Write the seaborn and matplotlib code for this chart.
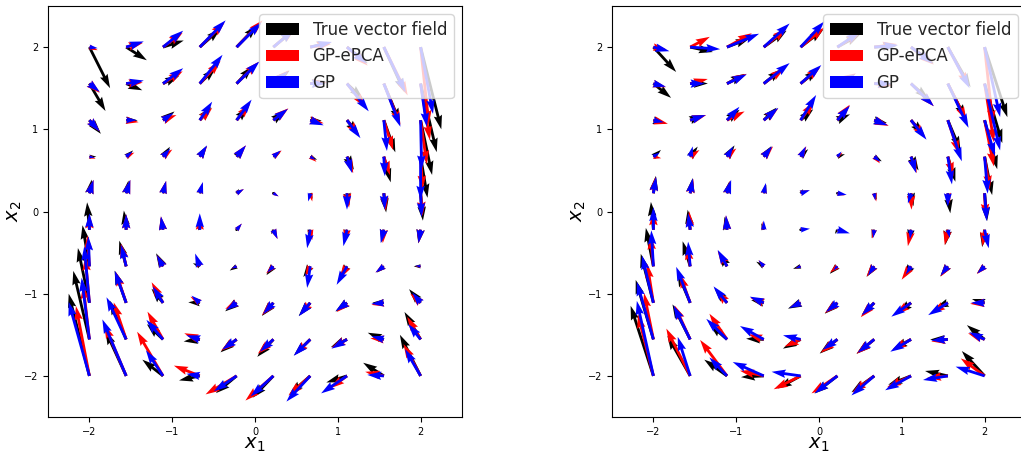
import numpy as np
import pandas as pd
import matplotlib
matplotlib.use("Agg")
import matplotlib.pyplot as plt
import seaborn as sns

# grid positions (same for x1 and x2)
grid = [-2.0, -1.556, -1.111, -0.667, -0.222, 0.222, 0.667, 1.111, 1.556, 2.0]
tick_vals = [-2, -1, 0, 1, 2]
labels = ["True vector field", "GP-ePCA", "GP"]

# rows go from x2=-2 (first) to x2=2 (last); columns from x1=-2 to x1=2
# ---------------- left panel ----------------
true_u_left_rows = [-2.0, -1.556, -1.111, -0.667, -0.222, 0.222, 0.667, 1.111, 1.556, 2.0]
true_v_left = [
    [8.0, 4.40, 1.58, -0.44, -1.68, -2.12, -1.78, -0.64, 1.28, 4.0],
    [6.67, 3.76, 1.48, -0.20, -1.26, -1.70, -1.53, -0.75, 0.65, 2.67],
    [5.33, 3.13, 1.37, 0.05, -0.83, -1.28, -1.28, -0.85, 0.02, 1.33],
    [4.0, 2.50, 1.27, 0.30, -0.41, -0.86, -1.04, -0.96, -0.61, 0.0],
    [2.67, 1.87, 1.16, 0.54, 0.01, -0.43, -0.79, -1.06, -1.24, -1.33],
    [1.33, 1.24, 1.06, 0.79, 0.43, -0.01, -0.54, -1.16, -1.87, -2.67],
    [0.0, 0.61, 0.96, 1.04, 0.86, 0.41, -0.30, -1.27, -2.50, -4.0],
    [-1.33, -0.02, 0.85, 1.28, 1.28, 0.83, -0.05, -1.37, -3.13, -5.33],
    [-2.67, -0.65, 0.75, 1.53, 1.70, 1.26, 0.20, -1.48, -3.76, -6.67],
    [-4.0, -1.28, 0.64, 1.78, 2.12, 1.68, 0.44, -1.58, -4.40, -8.0],
]
epca_u_left = [
    [-1.3, -2.1, -2.5, -2.5, -3.0, -2.7, -2.1, -1.6, -1.8, -1.65],
    [-0.6, -1.2, -1.5, -1.5, -1.5, -1.5, -1.5, -1.5, -1.3, -1.3],
    [-0.4, -1.0, -1.1, -0.9, -1.1, -1.1, -1.0, -1.0, -1.2, -1.0],
    [-0.2, -0.5, -0.6, -0.4, -0.5, -0.7, -0.5, -0.7, -0.8, -0.5],
    [0.0, 0.0, -0.2, 0.0, 0.5, 0.4, 0.2, -0.2, -0.1, -0.2],
    [0.4, 0.4, 0.3, 0.3, 0.7, 0.5, 0.2, 0.2, 0.2, 0.2],
    [0.6, 0.8, 0.9, 0.7, 0.9, 0.8, 0.6, 0.6, 0.6, 0.2],
    [1.0, 1.2, 1.3, 1.2, 1.3, 1.45, 1.3, 1.2, 0.9, 0.6],
    [1.0, 1.6, 1.9, 2.0, 2.1, 1.5, 1.6, 1.8, 1.6, 0.9],
    [0.8, 1.6, 1.9, 2.4, 2.5, 2.1, 2.0, 2.0, 2.3, 0.8],
]
epca_v_left = [
    [6.8, 5.0, 4.3, 1.0, -1.8, -2.4, -1.9, -1.2, 0.4, 3.1],
    [5.3, 3.6, 2.7, 0.6, -1.1, -1.4, -1.5, -0.8, 0.1, 2.2],
    [4.5, 3.0, 2.0, 0.6, -0.6, -1.2, -1.2, -0.9, -0.2, 0.9],
    [3.0, 2.2, 1.1, 0.9, -0.2, -0.7, -1.0, -1.2, -0.6, 0.0],
    [1.5, 1.5, 1.3, 1.3, 0.6, -0.9, -1.0, -1.2, -1.3, -1.3],
    [1.3, 1.3, 1.2, 1.0, 0.4, -0.3, -0.8, -1.4, -1.7, -2.2],
    [-0.2, 0.4, 0.7, 1.0, 1.1, 0.6, -0.5, -1.6, -1.8, -3.2],
    [-1.1, -0.2, 0.5, 1.2, 1.6, 1.15, -0.3, -1.5, -2.9, -4.3],
    [-0.9, 0.1, 1.2, 2.2, 2.1, 1.3, 0.1, -2.3, -4.0, -5.5],
    [-0.3, 0.4, 1.4, 2.4, 2.6, 1.8, 0.3, -1.8, -4.7, -7.5],
]
gp_u_left = [
    [-2.0, -2.3, -1.65, -1.3, -2.2, -2.2, -2.3, -2.5, -1.6, -1.5],
    [-0.75, -1.9, -1.6, -1.3, -1.4, -1.3, -1.6, -1.5, -1.2, -1.2],
    [-0.5, -1.1, -1.0, -0.8, -1.0, -1.0, -1.1, -1.1, -1.2, -0.8],
    [-0.1, -0.5, -0.6, -0.45, -0.5, -0.6, -0.3, -1.0, -0.8, -0.5],
    [0.0, 0.0, -0.2, 0.0, 0.5, 0.4, -0.3, -0.35, -0.3, -0.2],
    [0.4, 0.4, 0.3, 0.3, 0.7, 0.5, -0.2, 0.0, 0.1, 0.1],
    [0.5, 0.6, 0.7, 0.7, 0.9, 0.7, 0.5, 0.5, 0.1, 0.0],
    [1.0, 1.0, 1.0, 1.2, 1.45, 1.4, 1.3, 1.3, 0.3, 0.1],
    [1.0, 1.7, 1.95, 2.2, 2.2, 1.4, 1.5, 2.1, 1.6, 0.6],
    [0.8, 1.7, 1.95, 2.5, 2.4, 2.0, 2.1, 1.9, 2.1, 1.2],
]
gp_v_left = [
    [7.2, 5.5, 2.5, 0.2, -1.5, -2.0, -2.5, -1.7, 0.1, 2.6],
    [6.0, 4.1, 1.9, 0.4, -1.0, -1.2, -1.6, -0.9, 0.3, 1.5],
    [5.5, 3.1, 1.6, 0.7, -0.7, -1.1, -1.3, -0.8, -0.1, 1.0],
    [2.9, 2.1, 1.1, 1.25, -0.2, -0.6, -2.1, -1.8, -0.6, 0.05],
    [1.6, 1.5, 1.3, 1.6, 0.6, -0.9, -1.8, -1.6, -1.3, -1.3],
    [1.3, 1.3, 1.2, 1.1, 0.4, -0.3, -0.8, -1.6, -1.6, -2.3],
    [-0.1, 0.5, 0.8, 1.1, 1.1, 0.6, -0.3, -1.6, -1.9, -4.2],
    [-1.1, 0.0, 0.7, 1.8, 2.0, 1.1, -0.5, -1.75, -3.0, -4.8],
    [-0.8, 0.3, 1.5, 2.8, 2.15, 1.2, 0.0, -2.7, -4.2, -4.2],
    [-0.1, 0.55, 1.6, 2.6, 2.4, 1.7, 0.5, -1.6, -4.4, -6.5],
]

# ---------------- right panel ----------------
true_u_right_rows = [-2.2, -1.71, -1.22, -0.73, -0.24, 0.24, 0.73, 1.22, 1.71, 2.2]
true_v_right = [
    [6.82, 3.90, 1.58, -0.12, -1.22, -1.71, -1.59, -0.86, 0.48, 2.42],
    [5.79, 3.41, 1.50, 0.07, -0.90, -1.38, -1.40, -0.94, -0.01, 1.39],
    [4.77, 2.93, 1.42, 0.26, -0.57, -1.06, -1.21, -1.02, -0.50, 0.37],
    [3.74, 2.44, 1.34, 0.45, -0.24, -0.73, -1.02, -1.10, -0.98, -0.66],
    [2.71, 1.95, 1.26, 0.64, 0.08, -0.41, -0.83, -1.18, -1.47, -1.69],
    [1.69, 1.47, 1.18, 0.83, 0.41, -0.08, -0.64, -1.26, -1.95, -2.71],
    [0.66, 0.98, 1.10, 1.02, 0.73, 0.24, -0.45, -1.34, -2.44, -3.74],
    [-0.37, 0.50, 1.02, 1.21, 1.06, 0.57, -0.26, -1.42, -2.93, -4.77],
    [-1.39, 0.01, 0.94, 1.40, 1.38, 0.90, -0.07, -1.50, -3.41, -5.79],
    [-2.42, -0.48, 0.86, 1.59, 1.71, 1.22, 0.12, -1.58, -3.90, -6.82],
]
epca_u_right = [
    [-1.5, -2.3, -2.6, -2.3, -2.6, -2.5, -2.1, -2.3, -2.0, -2.3],
    [-0.9, -1.5, -1.7, -1.5, -1.55, -1.6, -1.7, -1.8, -1.6, -1.6],
    [-0.6, -1.0, -1.0, -1.3, -1.0, -1.2, -1.3, -1.5, -1.6, -1.4],
    [-0.3, -0.3, -0.9, -0.5, -0.5, -0.7, -0.75, -0.9, -0.7, -0.75],
    [0.0, -0.1, -0.1, -0.1, 0.3, 0.2, -0.2, -0.3, -0.3, -0.2],
    [0.2, 0.3, 0.3, 0.2, 0.8, 0.7, 0.2, 0.05, 0.2, 0.1],
    [0.75, 0.9, 0.9, 0.9, 0.55, 0.5, 0.55, 0.55, 0.55, 0.5],
    [1.4, 1.55, 1.7, 1.4, 1.3, 1.2, 1.4, 1.4, 1.1, 0.9],
    [1.2, 1.7, 1.9, 2.0, 1.9, 1.8, 1.8, 2.2, 1.8, 0.9],
    [1.2, 1.9, 2.4, 2.2, 2.3, 2.2, 2.2, 2.2, 2.0, 0.8],
]
epca_v_right = [
    [6.0, 4.6, 3.5, 0.5, -1.3, -1.7, -1.6, -1.1, -0.2, 1.7],
    [4.5, 3.3, 2.5, 0.5, -0.7, -1.3, -1.4, -1.0, -0.2, 0.6],
    [3.8, 2.8, 1.2, 0.5, -0.4, -1.0, -1.4, -1.1, -1.0, -0.1],
    [3.0, 2.0, 1.5, 0.6, -0.2, -0.6, -1.0, -1.3, -1.0, -0.75],
    [1.8, 1.8, 1.4, 0.8, 0.2, -0.3, -0.85, -1.6, -1.5, -1.6],
    [1.6, 1.4, 1.2, 0.9, 0.3, -0.2, -0.8, -1.6, -1.0, -2.4],
    [-0.15, 0.65, 0.8, 1.0, 1.0, 0.4, -0.65, -1.6, -1.9, -3.2],
    [-0.35, 0.5, 0.85, 1.15, 1.8, 1.5, -0.55, -1.7, -3.3, -4.5],
    [-0.35, 0.45, 0.95, 1.5, 1.6, 1.0, -0.2, -2.2, -3.6, -5.7],
    [-0.2, 1.0, 1.35, 1.8, 1.9, 1.4, 0.3, -1.7, -3.8, -7.5],
]
gp_u_right = [
    [-1.6, -1.2, -1.7, -3.0, -2.8, -2.2, -2.2, -2.5, -2.4, -2.8],
    [-1.6, -1.6, -2.0, -2.3, -1.7, -1.4, -1.6, -2.0, -1.6, -1.5],
    [-1.1, -1.35, -1.3, -1.35, -1.1, -1.1, -1.2, -1.9, -1.9, -1.3],
    [-0.2, -0.2, -0.9, -0.5, -0.5, -0.4, -0.6, -0.5, -0.7, -0.7],
    [0.0, -0.2, -0.1, 0.0, 0.9, 1.2, -0.1, -0.1, 0.2, 0.4],
    [0.26, 0.26, 0.4, 0.2, 0.9, 0.9, 0.1, -0.3, 0.0, 0.2],
    [0.6, 0.25, 0.6, 0.8, 0.5, 0.4, 0.6, 0.5, 0.4, 0.3],
    [1.0, 1.5, 1.2, 1.4, 1.5, 1.2, 1.3, 1.5, 1.35, 1.0],
    [1.2, 1.4, 1.9, 2.5, 2.0, 1.7, 1.7, 2.2, 2.0, 1.5],
    [1.55, 2.9, 3.1, 2.5, 2.3, 2.2, 2.3, 2.1, 2.1, 1.5],
]
gp_v_right = [
    [7.3, 3.8, 1.8, 1.35, 0.4, -1.7, -1.9, -1.4, -0.4, 0.9],
    [5.6, 3.3, 2.0, 1.3, 0.4, -1.0, -1.3, -1.2, -0.1, 0.7],
    [4.6, 3.5, 1.6, 0.6, -0.5, -0.9, -1.2, -1.35, -1.2, 0.0],
    [3.5, 2.4, 1.6, 0.6, -0.2, -0.4, -0.9, -0.8, -0.9, -0.7],
    [2.2, 1.6, 1.4, 0.9, 0.1, -0.35, -0.8, -0.9, -0.8, -1.8],
    [1.6, 1.45, 1.3, 1.0, 0.3, -0.15, -0.7, -1.0, -1.3, -2.7],
    [0.4, 1.0, 1.0, 1.0, 1.0, 0.5, -0.5, -1.6, -2.7, -3.6],
    [-0.2, 0.5, 1.3, 1.2, 2.45, 1.4, -0.5, -1.9, -4.0, -3.5],
    [-0.3, 0.0, 0.9, 2.0, 1.8, 0.9, 0.0, -2.2, -4.3, -6.5],
    [-0.4, -0.2, 1.3, 2.3, 2.5, 1.5, 0.2, -1.6, -4.0, -6.8],
]

panels = [
    (true_u_left_rows, true_v_left, epca_u_left, epca_v_left, gp_u_left, gp_v_left),
    (true_u_right_rows, true_v_right, epca_u_right, epca_v_right, gp_u_right, gp_v_right),
]

sns.set_style("ticks")
plt.rcParams["font.family"] = ["DejaVu Sans"]
plt.rcParams["mathtext.fontset"] = "dejavusans"

fig = plt.figure(figsize=(10.21, 4.57), dpi=100)
ax_left = fig.add_axes([48 / 1021, 40 / 457, 414 / 1021, 411 / 457])
ax_right = fig.add_axes([612 / 1021, 40 / 457, 414 / 1021, 411 / 457])

X, Y = np.meshgrid(grid, grid)
for ax, (tu_rows, tv, eu, ev, gu, gv) in zip([ax_left, ax_right], panels):
    tu = np.tile(np.array(tu_rows)[:, None], (1, len(grid)))
    series = [(tu, tv, "black"), (eu, ev, "red"), (gu, gv, "blue")]
    for (u, v, c), lab in zip(series, labels):
        ax.quiver(X, Y, np.array(u), np.array(v), color=c, label=lab,
                  angles="xy", scale_units="xy", scale=8, width=0.0068)
    ax.set_xlim(-2.5, 2.5)
    ax.set_ylim(-2.5, 2.5)
    ax.set_xticks(tick_vals)
    ax.set_yticks(tick_vals)
    ax.tick_params(labelsize=7, colors="black", length=3.5)
    for s in ax.spines.values():
        s.set_color("black")
    ax.set_xlabel("$x_1$", fontsize=14, color="black")
    ax.set_ylabel("$x_2$", fontsize=14, color="black")
    ax.xaxis.set_label_coords(0.5, -0.045)
    ax.yaxis.set_label_coords(-0.058, 0.5)
    ax.legend(loc="upper right", fontsize=12)

fig.savefig("out.png", dpi=100)
